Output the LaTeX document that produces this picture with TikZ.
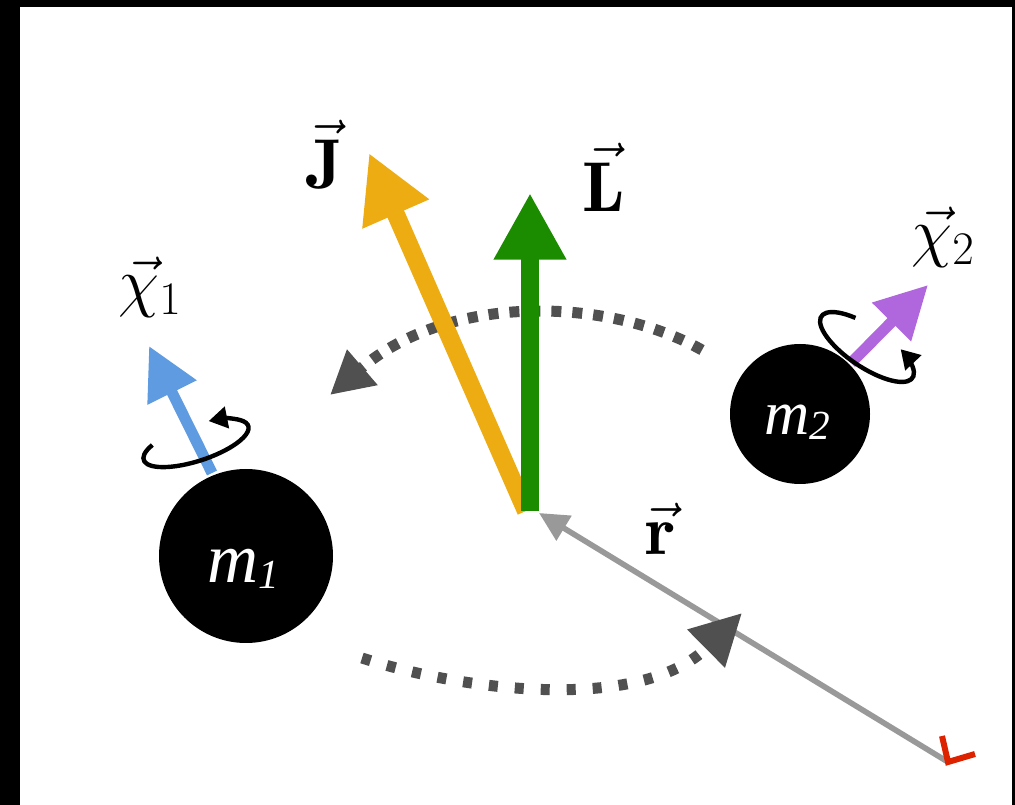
\RequirePackage{fix-cm}
\documentclass[tikz,border=0pt]{standalone}
\usepackage{fontspec}
\newfontfamily\mfont{Liberation Serif}
\usetikzlibrary{arrows.meta}
\definecolor{lgreen}{HTML}{1B8C00}
\definecolor{jyel}{HTML}{EDAC12}
\definecolor{cblue}{HTML}{5F9BE0}
\definecolor{cpurp}{HTML}{B066DD}
\definecolor{rgray}{HTML}{999999}
\definecolor{dgray}{HTML}{505050}
\definecolor{obsred}{HTML}{DD2200}
\begin{document}
\begin{tikzpicture}[x=0.75pt,y=0.75pt,
  bigvec/.style={line width=13.5pt,-{Triangle[length=50pt,width=51pt]}},
  spinvec/.style={line width=8.25pt,-{Triangle[length=39pt,width=39pt]}},
  spinloop/.style={draw=black,line width=3.3pt,-{Triangle[length=14pt,width=16pt]}},
  orbit/.style={draw=dgray,line width=8.25pt},
  vlabel/.style={inner sep=0pt,font=\fontsize{53}{53}\selectfont},
  clabel/.style={inner sep=0pt,font=\fontsize{50}{50}\selectfont},
  mass/.style={circle,fill=black,inner sep=0pt},
  mlabel/.style={inner sep=0pt,text=white}]
\useasboundingbox (0,0) rectangle (1015,-805);
\fill[black] (0,0) rectangle (1015,-805);
\fill[white] (19.5,-7) rectangle (1012,-805);

% named coordinates
\coordinate (obs) at (948,-762);
\coordinate (com) at (539,-513);
\coordinate (Lbase) at (530,-511);
\coordinate (Ltip) at (530,-193);
\coordinate (Jbase) at (526,-511);
\coordinate (Jtip) at (369,-153);
\coordinate (c1base) at (212,-473);
\coordinate (c1tip) at (149,-346);
\coordinate (c2base) at (851,-363);
\coordinate (c2tip) at (928,-285);

% separation vector
\draw[rgray,line width=4.2pt,-{Triangle[length=22pt,width=21pt]}] (obs) -- (com);
\draw[obsred,line width=4.5pt,miter limit=10] (942,-736) -- (948,-762) -- (975,-754);

% orbit arrows
\draw[orbit,dash pattern=on 7.5pt off 8.25pt,-{Triangle[length=32pt,width=33pt]}]
  (702,-350) .. controls (610,-298) and (450,-292) .. (330,-395);
\draw[orbit,dash pattern=on 6.75pt off 12.75pt,-{Triangle[length=38pt,width=38pt]}]
  (362,-658) .. controls (460,-690) and (640,-714) .. (742,-613);

% J and L
\draw[bigvec,draw=jyel,fill=jyel] (Jbase) -- (Jtip);
\draw[bigvec,draw=lgreen,fill=lgreen] (Lbase) -- (Ltip);

% spins
\draw[spinvec,draw=cblue,fill=cblue] (c1base) -- (c1tip);
\draw[spinvec,draw=cpurp,fill=cpurp] (c2base) -- (c2tip);

% masses
\node[mass,minimum size=130.5pt] (m1) at (246,-556) {};
\node[mass,minimum size=105pt] (m2) at (800,-414) {};
\node[mlabel] (m1l) at (243,-569) {\mfont\itshape\fontsize{53}{53}\selectfont m\raisebox{-4.5pt}{\fontsize{31}{31}\selectfont 1}};
\node[mlabel] (m2l) at (797,-422) {\mfont\itshape\fontsize{47}{47}\selectfont m\raisebox{-4pt}{\fontsize{31}{31}\selectfont 2}};

% spin loops
\begin{scope}[shift={(196,-443)},rotate=18]
  \draw[spinloop] (140:55 and 18) arc[start angle=140,end angle=430,x radius=55,y radius=18];
\end{scope}
\begin{scope}[shift={(867,-347)},rotate=-34]
  \draw[spinloop] (118:55 and 20) arc[start angle=118,end angle=418,x radius=55,y radius=20];
\end{scope}

% labels
\node[vlabel] (Jl) at (325,-155) {$\vec{\mathbf{J}}$};
\node[vlabel] (Ll) at (604,-177) {$\vec{\mathbf{L}}$};
\node[vlabel] (rl) at (661,-529) {$\vec{\mathbf{r}}$};
\node[clabel] (c1l) at (150,-287) {$\vec{\chi}_1$};
\node[clabel] (c2l) at (943,-237) {$\vec{\chi}_2$};
\end{tikzpicture}
\end{document}
